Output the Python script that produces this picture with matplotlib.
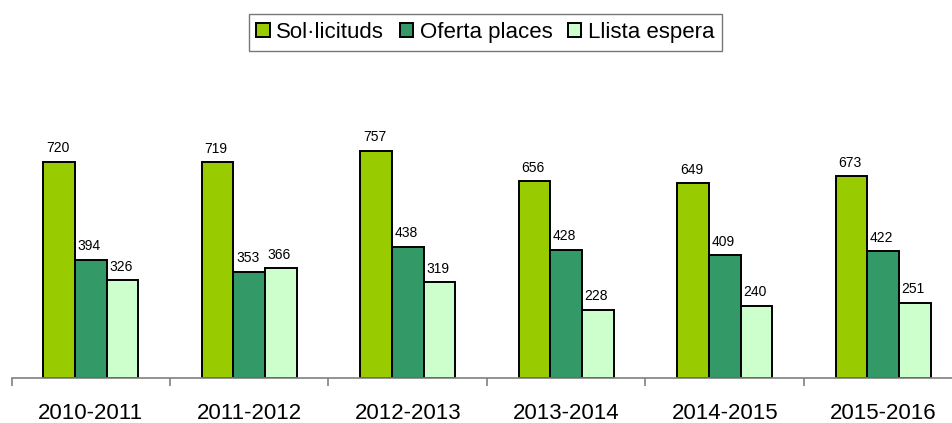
import matplotlib
matplotlib.use("Agg")
import matplotlib.pyplot as plt
import numpy as np

# data
cursos = ["2010-2011", "2011-2012", "2012-2013", "2013-2014", "2014-2015", "2015-2016"]
sollicituds = [720, 719, 757, 656, 649, 673]
oferta = [394, 353, 438, 428, 409, 422]
llista = [326, 366, 319, 228, 240, 251]

series = ["Sol·licituds", "Oferta places", "Llista espera"]
colors = ["#99CC00", "#339966", "#CCFFCC"]

plt.rcParams['font.family'] = ['Liberation Sans', 'DejaVu Sans']

fig = plt.figure(figsize=(9.52, 4.23), dpi=100)
ax = fig.add_axes([11.5 / 952, 45 / 423, 940.5 / 952, 300 / 423])

x = np.arange(len(cursos))
w = 0.2
for i, (vals, name, col) in enumerate(zip([sollicituds, oferta, llista], series, colors)):
    pos = x + (i - 1) * w
    ax.bar(pos, vals, w, color=col, edgecolor="black", linewidth=1.4, label=name)
    for xp, v in zip(pos, vals):
        ax.text(xp - 0.01, v + 22, str(v), ha="center", va="bottom", fontsize=10)

ax.set_xlim(-0.5, 5.434)
ax.set_ylim(0, 1000)

for s in ["top", "right", "left"]:
    ax.spines[s].set_visible(False)
ax.spines["bottom"].set_color("#808080")
ax.spines["bottom"].set_linewidth(1.2)
ax.set_yticks([])

# ticks between groups, labels at group centres
ax.set_xticks(np.arange(len(cursos)) - 0.5)
ax.set_xticklabels([])
ax.tick_params(axis="x", which="major", direction="out", length=6, color="#808080", width=1.2)
ax.set_xticks(x, minor=True)
ax.set_xticklabels(cursos, minor=True, fontsize=16)
ax.tick_params(axis="x", which="minor", length=0, pad=18)

leg = fig.legend(loc="upper center", bbox_to_anchor=(0.51, 0.993), ncol=3, fontsize=16,
                 frameon=True, fancybox=False, edgecolor="#555555", handlelength=0.6,
                 handleheight=0.6, handletextpad=0.3, columnspacing=0.7, borderpad=0.35)
leg.get_frame().set_linewidth(1.0)

fig.savefig("out.png", dpi=100)
